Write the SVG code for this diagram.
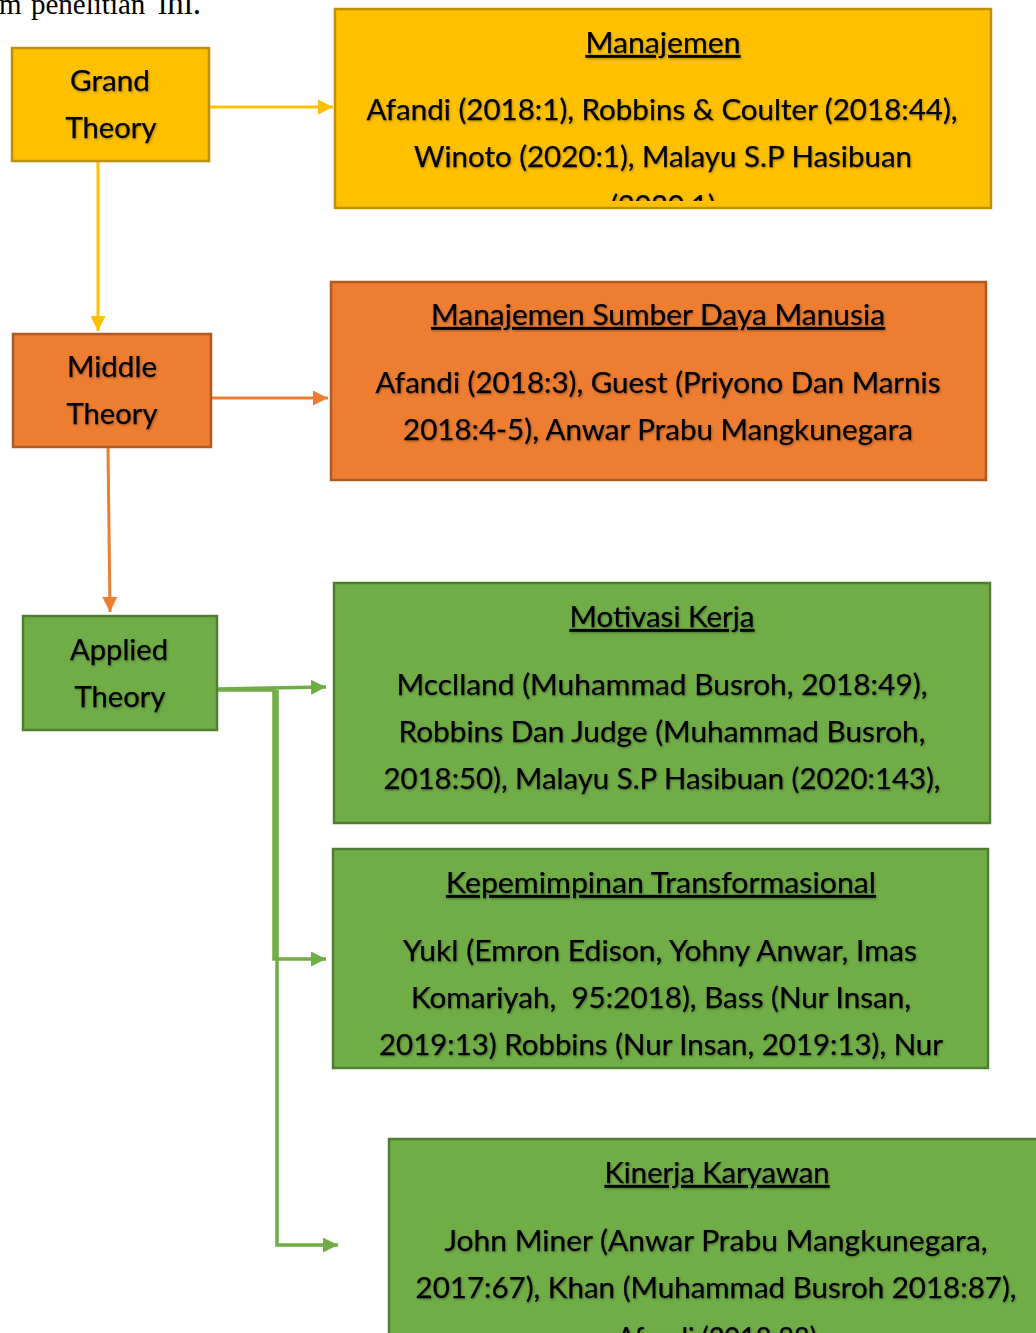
<svg xmlns="http://www.w3.org/2000/svg" width="1036" height="1333" viewBox="0 0 1036 1333">
<style>
.t{font-family:Lato,"Open Sans","DejaVu Sans",sans-serif;font-size:28px;fill:#000;stroke:#000;stroke-width:0.25;text-anchor:middle;filter:url(#sh)}
.h{text-decoration:underline}
.y{fill:#FFC000;stroke:#BF9000;stroke-width:2.5}
.o{fill:#ED7D31;stroke:#AE5A21;stroke-width:2.5}
.g{fill:#70AD47;stroke:#507E32;stroke-width:2.5}
.cy{fill:none;stroke:#FFC000;stroke-width:3}
.co{fill:none;stroke:#ED7D31;stroke-width:3}
.cg{fill:none;stroke:#70AD47;stroke-width:3.5}
.top{font-family:"Liberation Serif","Times New Roman",serif;font-size:29px;fill:#000}
</style>
<defs>
<filter id="sh" x="-5%" y="-20%" width="110%" height="150%">
<feDropShadow dx="1" dy="1.2" stdDeviation="0.8" flood-color="#000" flood-opacity="0.3"/>
</filter>
<marker id="ay" viewBox="0 0 10 10" refX="10" refY="5" markerWidth="15" markerHeight="15" markerUnits="userSpaceOnUse" orient="auto"><path d="M0,0 L10,5 L0,10 z" fill="#FFC000"/></marker>
<marker id="ao" viewBox="0 0 10 10" refX="10" refY="5" markerWidth="15" markerHeight="15" markerUnits="userSpaceOnUse" orient="auto"><path d="M0,0 L10,5 L0,10 z" fill="#ED7D31"/></marker>
<marker id="ag" viewBox="0 0 10 10" refX="10" refY="5" markerWidth="15" markerHeight="15" markerUnits="userSpaceOnUse" orient="auto"><path d="M0,0 L10,5 L0,10 z" fill="#70AD47"/></marker>
<clipPath id="c1"><rect x="335" y="9" width="656" height="192"/></clipPath>
<clipPath id="c4"><rect x="333" y="849" width="655" height="215"/></clipPath>
</defs>
<rect width="1036" height="1333" fill="#fff"/>

<text class="top" y="14"><tspan x="-1">m</tspan><tspan x="31">penelitian</tspan><tspan x="158" font-size="33">ini.</tspan></text>

<g id="connectors">
<path class="cy" d="M209,107 L333,107" marker-end="url(#ay)"/>
<path class="cy" d="M98,162 L98,331" marker-end="url(#ay)"/>
<path class="co" d="M211,398 L328,398" marker-end="url(#ao)"/>
<path class="co" d="M108,448 L110,612" marker-end="url(#ao)"/>
<path class="cg" d="M218,689 L326,687" marker-end="url(#ag)"/>
<path class="cg" d="M218,690 L274,690 L274,959 L326,959" marker-end="url(#ag)"/>
<path class="cg" stroke-width="3" d="M277,690 L277,1245 L338,1245" marker-end="url(#ag)"/>
</g>

<g id="grand">
<rect class="y" x="12" y="48" width="197" height="113"/>
<text class="t" x="110" y="91" textLength="80" lengthAdjust="spacingAndGlyphs">Grand</text>
<text class="t" x="111" y="138" textLength="91" lengthAdjust="spacingAndGlyphs">Theory</text>
</g>

<g id="manajemen">
<rect class="y" x="335" y="9" width="656" height="199"/>
<text class="t h" x="663" y="53" textLength="155" lengthAdjust="spacingAndGlyphs">Manajemen</text>
<text class="t" x="662" y="120" textLength="591" lengthAdjust="spacingAndGlyphs">Afandi (2018:1), Robbins &amp; Coulter (2018:44),</text>
<text class="t" x="663" y="167" textLength="498" lengthAdjust="spacingAndGlyphs">Winoto (2020:1), Malayu S.P Hasibuan</text>
<text class="t" x="663" y="216" textLength="105" lengthAdjust="spacingAndGlyphs" clip-path="url(#c1)">(2020:1)</text>
</g>

<g id="middle">
<rect class="o" x="13" y="334" width="198" height="113"/>
<text class="t" x="112" y="377" textLength="90" lengthAdjust="spacingAndGlyphs">Middle</text>
<text class="t" x="112" y="424" textLength="91" lengthAdjust="spacingAndGlyphs">Theory</text>
</g>

<g id="msdm">
<rect class="o" x="331" y="282" width="655" height="198"/>
<text class="t h" x="658" y="325" textLength="454" lengthAdjust="spacingAndGlyphs">Manajemen Sumber Daya Manusia</text>
<text class="t" x="658" y="393" textLength="565" lengthAdjust="spacingAndGlyphs">Afandi (2018:3), Guest (Priyono Dan Marnis</text>
<text class="t" x="658" y="440" textLength="510" lengthAdjust="spacingAndGlyphs">2018:4-5), Anwar Prabu Mangkunegara</text>
</g>

<g id="applied">
<rect class="g" x="23" y="616" width="194" height="114"/>
<text class="t" x="119" y="660" textLength="98" lengthAdjust="spacingAndGlyphs">Applied</text>
<text class="t" x="120" y="707" textLength="91" lengthAdjust="spacingAndGlyphs">Theory</text>
</g>

<g id="motivasi">
<rect class="g" x="334" y="583" width="656" height="240"/>
<text class="t h" x="662" y="627" textLength="185" lengthAdjust="spacingAndGlyphs">Motivasi Kerja</text>
<text class="t" x="662" y="695" textLength="531" lengthAdjust="spacingAndGlyphs">Mcclland (Muhammad Busroh, 2018:49),</text>
<text class="t" x="662" y="742" textLength="527" lengthAdjust="spacingAndGlyphs">Robbins Dan Judge (Muhammad Busroh,</text>
<text class="t" x="662" y="789" textLength="557" lengthAdjust="spacingAndGlyphs">2018:50), Malayu S.P Hasibuan (2020:143),</text>
</g>

<g id="kepemimpinan">
<rect class="g" x="333" y="849" width="655" height="219"/>
<text class="t h" x="661" y="893" textLength="430" lengthAdjust="spacingAndGlyphs">Kepemimpinan Transformasional</text>
<text class="t" x="660" y="961" textLength="514" lengthAdjust="spacingAndGlyphs">Yukl (Emron Edison, Yohny Anwar, Imas</text>
<text class="t" x="661" y="1008" textLength="500" lengthAdjust="spacingAndGlyphs" xml:space="preserve">Komariyah,  95:2018), Bass (Nur Insan,</text>
<text class="t" x="661" y="1055" textLength="564" lengthAdjust="spacingAndGlyphs" clip-path="url(#c4)">2019:13) Robbins (Nur Insan, 2019:13), Nur</text>
</g>

<g id="kinerja">
<rect class="g" x="389" y="1139" width="660" height="210"/>
<text class="t h" x="717" y="1183" textLength="225" lengthAdjust="spacingAndGlyphs">Kinerja Karyawan</text>
<text class="t" x="716" y="1251" textLength="543" lengthAdjust="spacingAndGlyphs">John Miner (Anwar Prabu Mangkunegara,</text>
<text class="t" x="716" y="1298" textLength="601" lengthAdjust="spacingAndGlyphs">2017:67), Khan (Muhammad Busroh 2018:87),</text>
<text class="t" x="717" y="1348" textLength="200" lengthAdjust="spacingAndGlyphs">Afandi (2018:88)</text>
</g>
</svg>
